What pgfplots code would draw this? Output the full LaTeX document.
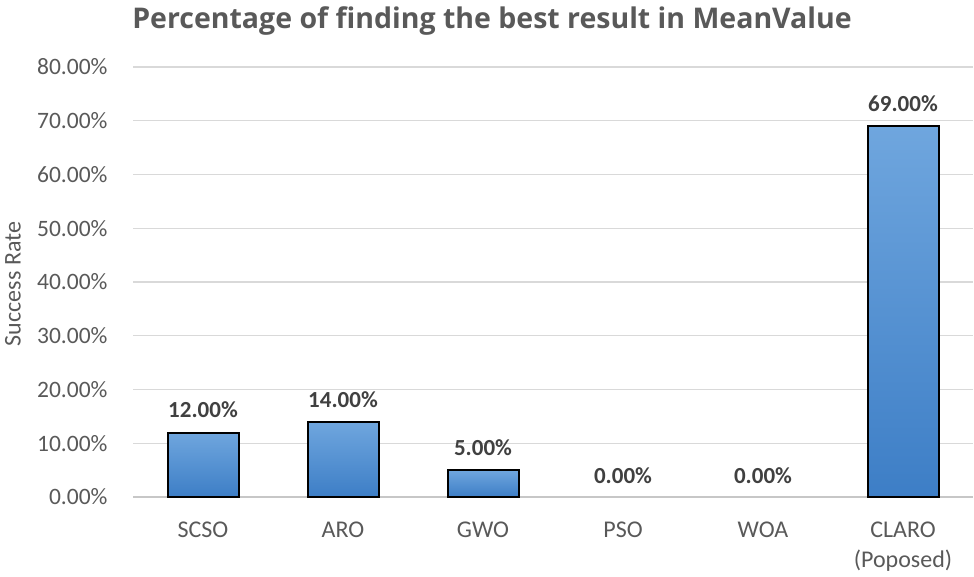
\documentclass[border=0pt]{standalone}
\usepackage{pgfplots}
\pgfplotsset{compat=1.18}
\usepackage{fontspec}
\setmainfont{Carlito}
\newfontfamily\titlefont{Open Sans}
\definecolor{txt}{HTML}{595959}
\definecolor{lbl}{HTML}{404040}
\definecolor{gridc}{HTML}{D9D9D9}
\definecolor{bartop}{HTML}{6FA6DE}
\definecolor{barbot}{HTML}{3D7EC6}
\begin{document}
\begin{tikzpicture}[x=1pt,y=1pt]
\path[use as bounding box] (0,0) rectangle (974,576);
\node[font=\titlefont\bfseries\fontsize{28.5}{32}\selectfont, text=txt] at (492,555) {Percentage of finding the best result in MeanValue};
\node[rotate=90, font=\fontsize{24}{29}\selectfont, text=txt] at (13,292) {Success Rate};
\begin{axis}[
  at={(133pt,79pt)}, anchor=south west,
  scale only axis, width=840pt, height=430pt,
  xmin=-0.5, xmax=5.5, ymin=0, ymax=80,
  ytick={0,10,...,80},
  yticklabels={0.00\%,10.00\%,20.00\%,30.00\%,40.00\%,50.00\%,60.00\%,70.00\%,80.00\%},
  xtick={0,...,5},
  xticklabels={SCSO,ARO,GWO,PSO,WOA,{CLARO\\(Poposed)}},
  xticklabel style={align=center, font=\fontsize{24}{30}\selectfont, text=txt},
  yticklabel style={font=\fontsize{23.5}{29}\selectfont, text=txt},
  ymajorgrids, grid style={gridc, line width=1.2pt},
  axis x line*=bottom, axis y line*=left,
  y axis line style={draw=none},
  x axis line style={draw=gridc!80!gray, line width=1.2pt},
  major tick length=0pt,
  xtick style={draw=none}, ytick style={draw=none},
  xticklabel shift=21pt, yticklabel shift=22pt,
  ybar, bar width=71pt, bar shift=0pt,
  nodes near coords={\pgfmathprintnumber[fixed,fixed zerofill,precision=2,assume math mode=true]{\pgfplotspointmeta}\%},
  every node near coord/.append style={font=\bfseries\fontsize{23}{27}\selectfont, text=lbl, yshift=10pt},
  clip=false,
  bars/.style={draw=black, line width=2pt, top color=bartop, bottom color=barbot},
]
\addplot[bars] coordinates {(0,12)};
\addplot[bars] coordinates {(1,14)};
\addplot[bars] coordinates {(2,5)};
\addplot[bars] coordinates {(5,69)};
\addplot[draw=none, fill=none] coordinates {(3,0) (4,0)};
\end{axis}
\end{tikzpicture}
\end{document}
